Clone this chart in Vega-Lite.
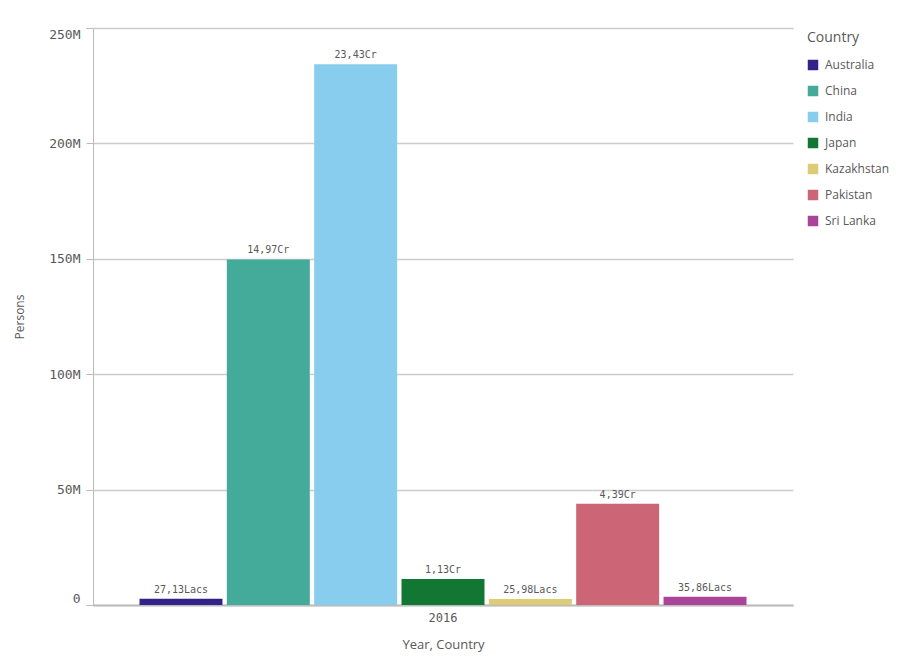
{
  "$schema": "https://vega.github.io/schema/vega-lite/v6.json",
  "width": 700,
  "height": 577,
  "autosize": {"type": "none"},
  "padding": {"left": 93, "top": 28, "right": 108, "bottom": 55},
  "background": "white",
  "data": {
    "values": [
      {"Year": "2016", "Country": "Australia", "Persons": 2713000, "Label": "27,13Lacs"},
      {"Year": "2016", "Country": "China", "Persons": 149700000, "Label": "14,97Cr"},
      {"Year": "2016", "Country": "India", "Persons": 234300000, "Label": "23,43Cr"},
      {"Year": "2016", "Country": "Japan", "Persons": 11300000, "Label": "1,13Cr"},
      {"Year": "2016", "Country": "Kazakhstan", "Persons": 2598000, "Label": "25,98Lacs"},
      {"Year": "2016", "Country": "Pakistan", "Persons": 43900000, "Label": "4,39Cr"},
      {"Year": "2016", "Country": "Sri Lanka", "Persons": 3586000, "Label": "35,86Lacs"}
    ]
  },
  "encoding": {
    "x": {
      "field": "Year", "type": "nominal",
      "scale": {"paddingInner": 0, "paddingOuter": 0.0766},
      "axis": {
        "title": "Year, Country", "labelAngle": 0, "ticks": false,
        "domainColor": "#bbbbbb", "domainWidth": 2,
        "labelFont": "DejaVu Sans Mono", "labelFontSize": 12, "labelColor": "#595959", "labelPadding": 7,
        "titleFont": "Open Sans", "titleFontSize": 13, "titleFontWeight": "normal", "titleColor": "#595959", "titlePadding": 15
      }
    },
    "xOffset": {"field": "Country", "type": "nominal", "scale": {"paddingInner": 0.05, "paddingOuter": 0}},
    "y": {
      "field": "Persons", "type": "quantitative",
      "scale": {"domain": [0, 250000000], "nice": false},
      "axis": {
        "title": "Persons", "values": [0, 50000000, 100000000, 150000000, 200000000, 250000000],
        "labelExpr": "datum.value == 0 ? '0' : format(datum.value, '~s')", "labelFlush": true,
        "gridColor": "#cccccc", "gridWidth": 1.5,
        "domainColor": "#bbbbbb", "tickColor": "#bbbbbb", "tickSize": 7,
        "labelFont": "DejaVu Sans Mono", "labelFontSize": 13, "labelColor": "#595959", "labelPadding": 6,
        "titleFont": "Open Sans", "titleFontSize": 12, "titleFontWeight": "normal", "titleColor": "#595959", "titlePadding": 22
      }
    }
  },
  "layer": [
    {
      "mark": {"type": "bar"},
      "encoding": {
        "color": {
          "field": "Country", "type": "nominal",
          "scale": {
            "domain": ["Australia", "China", "India", "Japan", "Kazakhstan", "Pakistan", "Sri Lanka"],
            "range": ["#332288", "#44aa99", "#88ccee", "#117733", "#ddcc77", "#cc6677", "#aa4499"]
          },
          "legend": {
            "title": "Country", "offset": 11, "padding": 3, "symbolType": "square", "symbolSize": 110,
            "symbolStrokeWidth": 0, "rowPadding": 14,
            "titleFont": "Open Sans", "titleFontSize": 14, "titleFontWeight": "normal", "titleColor": "#595959", "titlePadding": 14,
            "labelFont": "Open Sans", "labelFontSize": 12, "labelColor": "#595959", "labelOffset": 6
          }
        }
      }
    },
    {
      "mark": {"type": "text", "baseline": "bottom", "dy": -4, "font": "DejaVu Sans Mono", "fontSize": 10, "color": "#595959"},
      "encoding": {"text": {"field": "Label"}}
    }
  ],
  "config": {"view": {"stroke": null}}
}
